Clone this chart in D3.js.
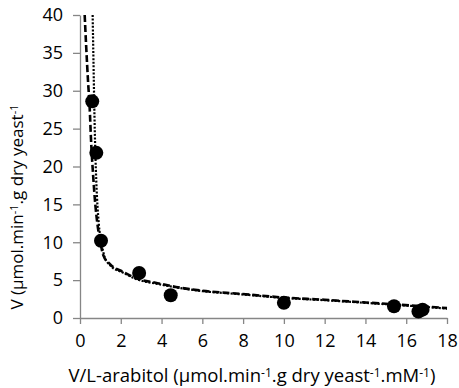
<!DOCTYPE html>
<html>
<head>
<meta charset="utf-8">
<script src="https://cdn.jsdelivr.net/npm/d3@7"></script>
<style>
  body { margin: 0; background: #fff; }
  text { font-family: "Open Sans", "Liberation Sans", sans-serif; fill: #000; }
</style>
</head>
<body>
<svg id="chart" width="459" height="388"></svg>
<script>
// measured points: x = V/[L-arabitol], y = V
const obsX = [0.6, 0.8, 1.03, 2.9, 4.45, 10.0, 15.4, 16.6, 16.8];
const obsV = [28.6, 21.8, 10.2, 5.95, 3.0, 2.0, 1.55, 0.85, 1.1];

// fitted curve (dashed)
const dashX = [0.23, 0.3, 0.4, 0.47, 0.55, 0.64, 0.75, 0.85, 1.0, 1.14, 1.47, 2.1, 2.8, 3.8, 4.7, 6, 7.8, 10, 12, 14, 15.4, 17, 18];
const dashV = [40, 36, 31, 28, 23, 19, 15, 12.5, 10, 8.3, 7.1, 6.1, 5.2, 4.6, 4.1, 3.6, 3.2, 2.7, 2.4, 2.05, 1.8, 1.5, 1.3];

// second fitted curve (dotted)
const dotX = [0.62, 0.66, 0.7, 0.75, 0.8, 0.92, 1.05, 1.2, 1.5, 2.1, 2.8, 3.8, 4.7, 6, 7.8, 10, 12, 14, 15.4, 17, 18];
const dotV = [40, 34, 28, 22, 18, 12.5, 10, 8.1, 6.9, 6.0, 5.1, 4.5, 4.05, 3.55, 3.15, 2.65, 2.35, 2.0, 1.75, 1.45, 1.25];

const xTicks = d3.range(0, 19, 2);
const yTicks = d3.range(0, 41, 5);

const svg = d3.select('#chart'),
  margin = { top: 15, right: 12, bottom: 70, left: 80 },
  width = +svg.attr('width') - margin.left - margin.right,
  height = +svg.attr('height') - margin.top - margin.bottom;

const frame = svg.append('g')
  .attr('transform', `translate(${margin.left},${margin.top})`);

const x = d3.scaleLinear().domain([0, 18]).range([0, width]);
const y = d3.scaleLinear().domain([0, 40]).range([height, 0]);

const xAxis = frame.append('g')
  .attr('transform', `translate(0,${height})`)
  .call(d3.axisBottom(x).tickValues(xTicks).tickSize(6).tickSizeOuter(0).tickPadding(10));
const yAxis = frame.append('g')
  .call(d3.axisLeft(y).tickValues(yTicks).tickSize(7).tickSizeOuter(0).tickPadding(10));

[xAxis, yAxis].forEach(a => {
  a.selectAll('path, line').attr('stroke', '#868686').attr('stroke-width', 1.3);
  a.selectAll('text').style('font-size', '18px').attr('fill', '#000');
});

const line = d3.line()
  .x(d => x(d[0]))
  .y(d => y(d[1]))
  .curve(d3.curveMonotoneX);

frame.append('path')
  .datum(dotX.map((v, i) => [v, dotV[i]]))
  .attr('d', line)
  .attr('fill', 'none')
  .attr('stroke', '#000')
  .attr('stroke-width', 2.2)
  .attr('stroke-dasharray', '2,1.6');

frame.append('path')
  .datum(dashX.map((v, i) => [v, dashV[i]]))
  .attr('d', line)
  .attr('fill', 'none')
  .attr('stroke', '#000')
  .attr('stroke-width', 2.6)
  .attr('stroke-dasharray', '7,3');

frame.selectAll('.dot')
  .data(obsX.map((v, i) => [v, obsV[i]]))
  .enter().append('circle')
  .attr('class', 'dot')
  .attr('cx', d => x(d[0]))
  .attr('cy', d => y(d[1]))
  .attr('r', 7)
  .attr('fill', '#000');

// axis titles with superscripts
function addTitle(el, parts, supSize) {
  parts.forEach(p => {
    const t = el.append('tspan').text(p.t);
    if (p.sup) t.attr('font-size', supSize).attr('baseline-shift', '45%');
  });
}

const xTitle = svg.append('text')
  .attr('x', 252)
  .attr('y', 382)
  .attr('text-anchor', 'middle')
  .style('font-size', '18.5px');
addTitle(xTitle, [
  { t: 'V/L-arabitol (\u00b5mol.min' }, { t: '-1', sup: true },
  { t: '.g dry yeast' }, { t: '-1', sup: true },
  { t: '.mM' }, { t: '-1', sup: true }, { t: ')' }
], '12px');

const yTitle = svg.append('text')
  .attr('transform', 'translate(23,207) rotate(-90)')
  .attr('text-anchor', 'middle')
  .style('font-size', '17px');
addTitle(yTitle, [
  { t: 'V (\u00b5mol.min' }, { t: '-1', sup: true },
  { t: '.g dry yeast' }, { t: '-1', sup: true }
], '11px');
</script>
</body>
</html>
